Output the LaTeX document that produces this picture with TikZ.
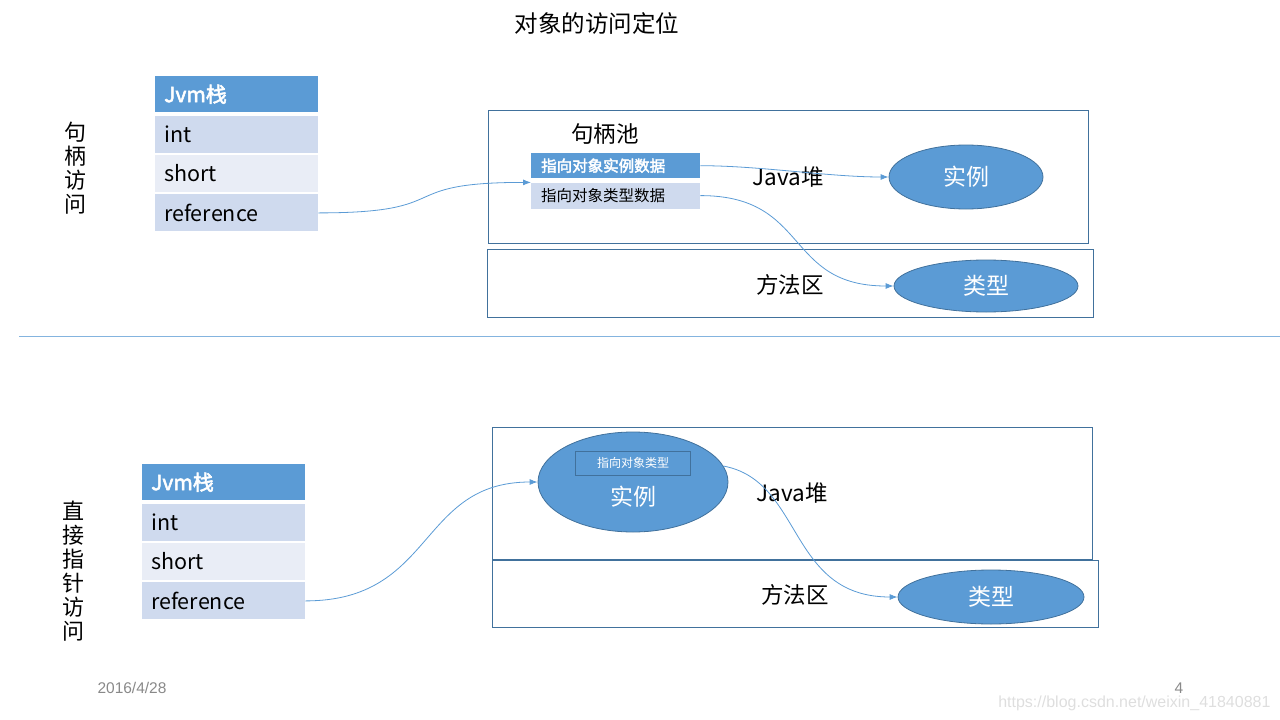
\documentclass[tikz,border=0pt]{standalone}
\usepackage{fontspec}
\setmainfont{Noto Sans CJK SC}[AutoFakeBold=2.5]
\newfontfamily\notefont{Liberation Sans}
\usetikzlibrary{shapes.geometric, arrows.meta, positioning}
\definecolor{tableblue}{RGB}{91,155,213}
\definecolor{bandone}{RGB}{207,218,238}
\definecolor{bandtwo}{RGB}{233,237,246}
\definecolor{edgeblue}{RGB}{65,113,156}
\definecolor{lineblue}{RGB}{91,155,213}
\definecolor{notegray}{RGB}{137,137,137}

\tikzset{
  cell/.style={rectangle, inner xsep=9pt, inner ysep=0pt, text width=145pt, minimum height=37pt, align=left, font=\fontsize{21.5}{24}\selectfont},
  headcell/.style={cell, minimum height=36pt, fill=tableblue, text=white, font=\fontsize{21}{24}\selectfont\bfseries},
  handlecell/.style={rectangle, inner xsep=10pt, inner ysep=0pt, text width=149pt, align=left, font=\fontsize{15.5}{16}\selectfont},
  areabox/.style={rectangle, draw=edgeblue, line width=0.8pt, inner sep=0pt},
  blob/.style={ellipse, fill=tableblue, draw=edgeblue, line width=0.8pt, inner sep=0pt, text=white, font=\fontsize{23}{24}\selectfont},
  plain/.style={font=\fontsize{22.5}{24}\selectfont},
  sidelabel/.style={align=center, text width=24pt, font=\fontsize{22}{24}\selectfont},
  conn/.style={draw=lineblue, line width=0.8pt, -{Latex[length=8pt,width=6pt]}}
}

\begin{document}
\begin{tikzpicture}[x=1pt, y=-1pt]
        \useasboundingbox (0,0) rectangle (1280,720);

        % Title
        \node[font=\fontsize{23.5}{26}\selectfont] (title) at (597,24) {对象的访问定位};

        % ---- handle access ----
        \node[sidelabel] (sideA) at (75,168) {句\\柄\\访\\问};

        % Jvm stack
        \node[headcell, anchor=north west] (jvmA) at (155,76) {Jvm栈};
        \node[cell, fill=bandone, below=3pt of jvmA] (intA) {int};
        \node[cell, fill=bandtwo, below=2pt of intA] (shortA) {short};
        \node[cell, fill=bandone, below=2pt of shortA] (refA) {reference};

        % Java heap and method area
        \node[areabox, minimum width=600pt, minimum height=133pt, anchor=north west] (heapA) at (488,110) {};
        \node[areabox, minimum width=606pt, minimum height=68pt, anchor=north west] (methodA) at (487,249) {};
        \node[plain] (poolA) at (605,134) {句柄池};
        \node[plain] (heaptextA) at (788,177) {Java堆};
        \node[plain] (methodtextA) at (790,285) {方法区};

        % Handle pool
        \node[handlecell, fill=tableblue, text=white, minimum height=25pt, anchor=north west, font=\fontsize{15.5}{16}\selectfont\bfseries] (instptrA) at (531,153) {指向对象实例数据};
        \node[handlecell, fill=bandone, minimum height=26pt, below=4pt of instptrA] (typeptrA) {指向对象类型数据};

        % Objects
        \node[blob, minimum width=154pt, minimum height=64pt] (instA) at (966,177) {实例};
        \node[blob, minimum width=184pt, minimum height=52pt] (typeA) at (986,286) {类型};

        % Links
        \draw[conn] (refA.east) .. controls +(140,0) and +(-140,0) .. (instptrA.west |- typeptrA.north);
        \draw[conn] (instptrA.east) .. controls +(60,0) and +(-60,0) .. (instA.west);
        \draw[conn] (typeptrA.east) .. controls +(110,0) and +(-110,0) .. (typeA.west);

        % Separator
        \coordinate (sepL) at (19,336);
        \coordinate (sepR) at (1280,336);
        \draw[lineblue!75, line width=0.8pt] (sepL) -- (sepR);

        % ---- direct pointer access ----
        \node[sidelabel] (sideB) at (73,571) {直\\接\\指\\针\\访\\问};

        % Jvm stack
        \node[headcell, anchor=north west] (jvmB) at (142,464) {Jvm栈};
        \node[cell, fill=bandone, below=3pt of jvmB] (intB) {int};
        \node[cell, fill=bandtwo, below=2pt of intB] (shortB) {short};
        \node[cell, fill=bandone, below=2pt of shortB] (refB) {reference};

        % Java heap and method area
        \node[areabox, minimum width=600pt, minimum height=132pt, anchor=north west] (heapB) at (492,427) {};
        \node[areabox, minimum width=606pt, minimum height=67pt, anchor=north west] (methodB) at (492,560) {};
        \node[plain] (heaptextB) at (792,493) {Java堆};
        \node[plain] (methodtextB) at (795,595) {方法区};

        % Objects
        \node[blob, minimum width=190pt, minimum height=100pt] (instB) at (633,482) {};
        \node[rectangle, draw=edgeblue, line width=0.8pt, minimum width=115pt, minimum height=24pt, inner sep=0pt, text=white, font=\fontsize{12}{13}\selectfont] (typeptrB) at (633,463) {指向对象类型};
        \node[text=white, font=\fontsize{23}{24}\selectfont] (insttextB) at (633,497) {实例};
        \node[blob, minimum width=186pt, minimum height=54pt] (typeB) at (991,597) {类型};

        % Links
        \draw[conn] (refB.east) .. controls +(130,0) and +(-120,0) .. (instB.west);
        \draw[conn] (instB.10) .. controls +(80,15) and +(-110,0) .. (typeB.west);

        % Footer
        \node[text=notegray, font=\notefont\fontsize{15.5}{16}\selectfont] (date) at (132,688) {2016/4/28};
        \node[text=notegray, font=\notefont\fontsize{15.5}{16}\selectfont] (page) at (1179,688) {4};
        \node[anchor=east, text=black!13, font=\notefont\fontsize{16}{17}\selectfont] (mark) at (1274,703) {https://blog.csdn.net/weixin\_41840881};
    \end{tikzpicture}
\end{document}
